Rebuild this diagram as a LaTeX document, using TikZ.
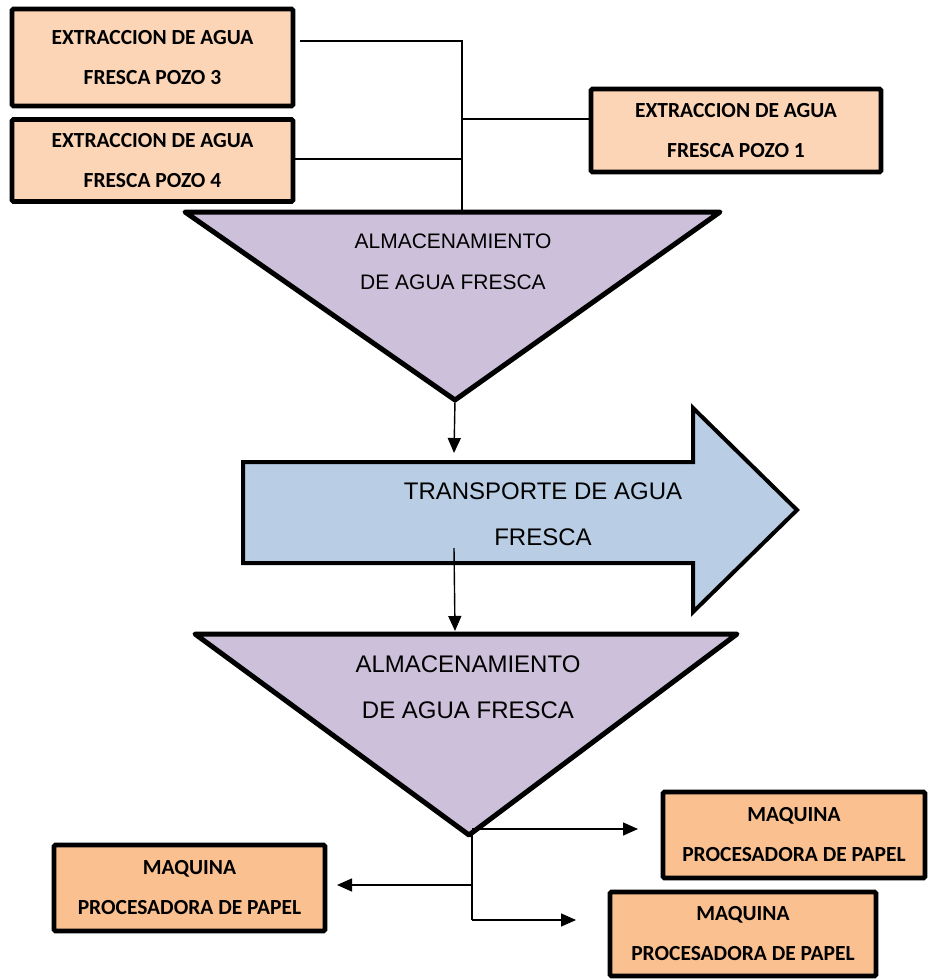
\documentclass[tikz,border=0pt]{standalone}
\usepackage{fontspec}
\setmainfont{Liberation Sans}
\newfontfamily\calib{Carlito}
\usetikzlibrary{arrows.meta}
\definecolor{peachA}{HTML}{FBD5B5}
\definecolor{peachB}{HTML}{FAC090}
\definecolor{lilac}{HTML}{CCC0DA}
\definecolor{paleblue}{HTML}{B9CDE5}
\tikzset{
  boxbase/.style={draw=black, line width=4.8pt, rounded corners=1.5pt, align=center, inner sep=0pt,
    font=\calib\bfseries\fontsize{21.5}{40}\selectfont},
  pozo/.style={boxbase, fill=peachA},
  maq/.style={boxbase, fill=peachB},
  tri/.style={draw=black, line width=5pt, fill=lilac, line join=round},
  trans/.style={draw=black, line width=4pt, fill=paleblue, line join=miter},
  conn/.style={draw=black, line width=1.4pt},
  arr/.style={conn, -{Triangle[length=15pt,width=13pt]}},
  tritxt/.style={align=center, inner sep=0pt},
}
\begin{document}
\begin{tikzpicture}[x=1pt,y=-1pt]
\useasboundingbox (0,0) rectangle (927,980);

% top boxes
\node[pozo, minimum width=281pt, minimum height=97pt] (p3) at (152.5,57.5) {EXTRACCION DE AGUA\\FRESCA POZO 3};
\node[pozo, minimum width=281pt, minimum height=82pt] (p4) at (152.5,160.5) {EXTRACCION DE AGUA\\FRESCA POZO 4};
\node[pozo, minimum width=290pt, minimum height=83pt] (p1) at (736,130.5) {EXTRACCION DE AGUA\\FRESCA POZO 1};

% bus
\coordinate (bustop) at (462,41);
\coordinate (b4) at (462,159);
\coordinate (b1) at (462,119);
\coordinate (t1top) at (462,212);

% triangle 1
\coordinate (t1l) at (185,212);
\coordinate (t1r) at (720,212);
\coordinate (t1a) at (455,400);
\draw[tri] (t1l) -- (t1r) -- (t1a) -- cycle;
\node[tritxt, font=\fontsize{21}{41}\selectfont] (t1txt) at (453,261.5) {ALMACENAMIENTO\\DE AGUA FRESCA};

\draw[conn] ([xshift=5pt]p3.east |- bustop) -- (bustop) -- (t1top);
\draw[conn] (p4.east |- b4) -- (b4);
\draw[conn] (b1) -- (p1.west |- b1);

% transport arrow
\coordinate (a1end) at (454,453);
\draw[trans] (243,462) -- (693,462) -- (693,408) -- (797,510) -- (693,612) -- (693,563) -- (243,563) -- cycle;
\node[tritxt, font=\fontsize{24}{46}\selectfont] (trtxt) at (543,514) {TRANSPORTE DE AGUA\\FRESCA};
\draw[arr] (t1a) -- (a1end);

% triangle 2
\coordinate (t2l) at (195,634);
\coordinate (t2r) at (737,634);
\coordinate (t2a) at (469,835);
\coordinate (a2start) at (454,548);
\coordinate (t2top) at (455,631);
\draw[tri] (t2l) -- (t2r) -- (t2a) -- cycle;
\node[tritxt, font=\fontsize{24}{46}\selectfont] (t2txt) at (468,687) {ALMACENAMIENTO\\DE AGUA FRESCA};
\draw[arr] (a2start) -- (t2top);

% bottom boxes
\node[maq, minimum width=271pt, minimum height=86pt] (ml) at (189.5,888) {MAQUINA\\PROCESADORA DE PAPEL};
\node[maq, minimum width=262pt, minimum height=86pt] (m1) at (794,835) {MAQUINA\\PROCESADORA DE PAPEL};
\node[maq, minimum width=266pt, minimum height=84pt] (m2) at (743,934) {MAQUINA\\PROCESADORA DE PAPEL};

% bottom connectors
\coordinate (r1s) at (472,829);
\coordinate (r1e) at (638,829);
\coordinate (vtop) at (472,833);
\coordinate (vcorner) at (472,920);
\coordinate (r2e) at (576,920);
\coordinate (ls) at (472,885);
\coordinate (le) at (337,885);
\draw[arr] (r1s) -- (r1e);
\draw[conn] (vtop) -- (vcorner);
\draw[arr] (vcorner) -- (r2e);
\draw[arr] (ls) -- (le);
\end{tikzpicture}
\end{document}
